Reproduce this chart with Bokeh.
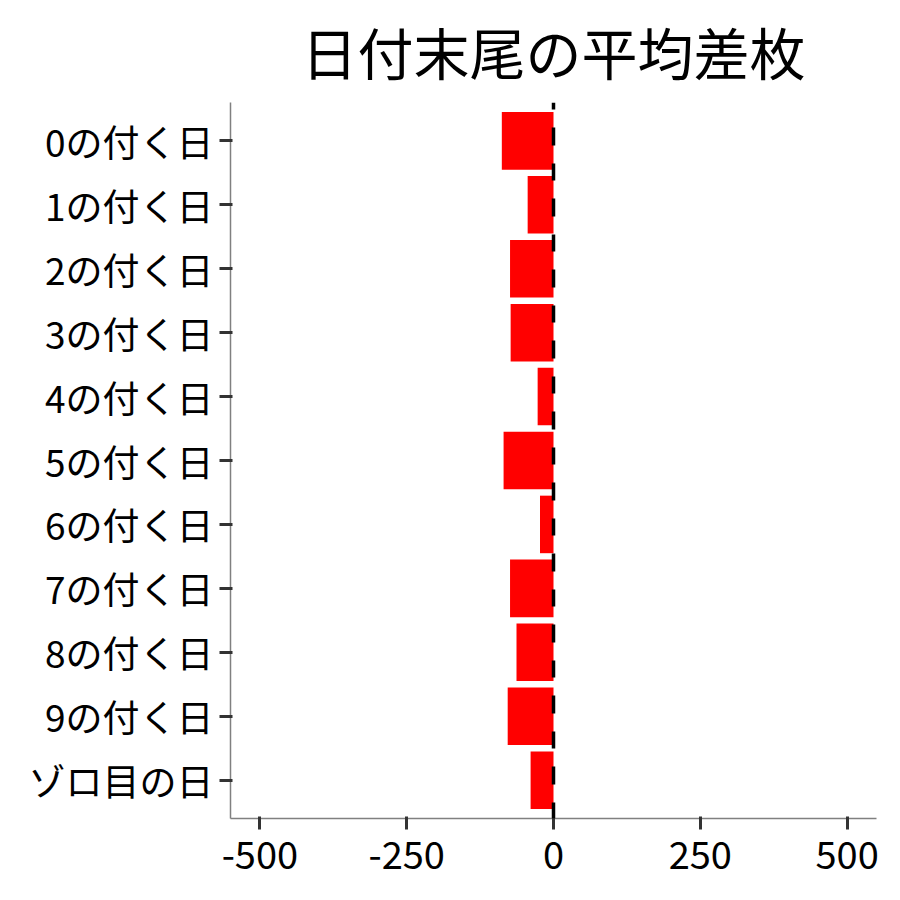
from bokeh.plotting import figure
from bokeh.models import FactorRange, Range1d, Span, FixedTicker, ColumnDataSource
from bokeh.embed import file_html
from bokeh.resources import INLINE

title_text = "日付末尾の平均差枚"
categories = ["0の付く日", "1の付く日", "2の付く日", "3の付く日", "4の付く日",
              "5の付く日", "6の付く日", "7の付く日", "8の付く日", "9の付く日", "ゾロ目の日"]
values = [-88, -44, -74, -73, -27, -85, -23, -74, -63, -78, -39]
x_ticks = [-500, -250, 0, 250, 500]
x_tick_labels = ["-500", "-250", "0", "250", "500"]

FONT = "Noto Sans CJK JP"

src = ColumnDataSource(dict(cat=categories, val=values))

p = figure(width=884, height=884, output_backend="svg", toolbar_location=None,
           y_range=FactorRange(factors=list(reversed(categories)), range_padding=0.1,
                               range_padding_units="absolute"),
           x_range=Range1d(-550, 550),
           min_border_left=230, min_border_right=8, min_border_top=102, min_border_bottom=66)

p.hbar(y="cat", left=0, right="val", height=0.9, source=src,
       fill_color="#FF0000", line_color=None)

p.add_layout(Span(location=0, dimension="height", line_color="black", line_width=3.5,
                  line_dash="18 18 17 18", line_dash_offset=46))

p.title.text = title_text
p.title.text_font = "Lato, 'Noto Sans CJK JP'"
p.title.text_font_size = "56px"
p.title.text_font_style = "normal"
p.title.text_color = "black"
p.title.align = "center"
p.title.standoff = 32
p.title.offset = -5

p.xgrid.visible = False
p.ygrid.visible = False
p.outline_line_color = None

p.xaxis.ticker = FixedTicker(ticks=x_ticks)
p.xaxis.major_label_overrides = {t: l for t, l in zip(x_ticks, x_tick_labels)}

p.axis.axis_line_color = "#808080"
p.axis.axis_line_width = 1.5
p.axis.major_tick_line_color = "#333333"
p.axis.major_tick_line_width = 3
p.axis.major_tick_out = 11
p.axis.minor_tick_line_color = None
p.axis.major_label_text_font = FONT
p.axis.major_label_text_color = "black"

p.xaxis.major_label_text_font_size = "38px"
p.yaxis.major_label_text_font_size = "37px"
p.xaxis.major_label_standoff = 11
p.yaxis.major_label_standoff = 6

open("out.html", "w").write(file_html(p, INLINE))
